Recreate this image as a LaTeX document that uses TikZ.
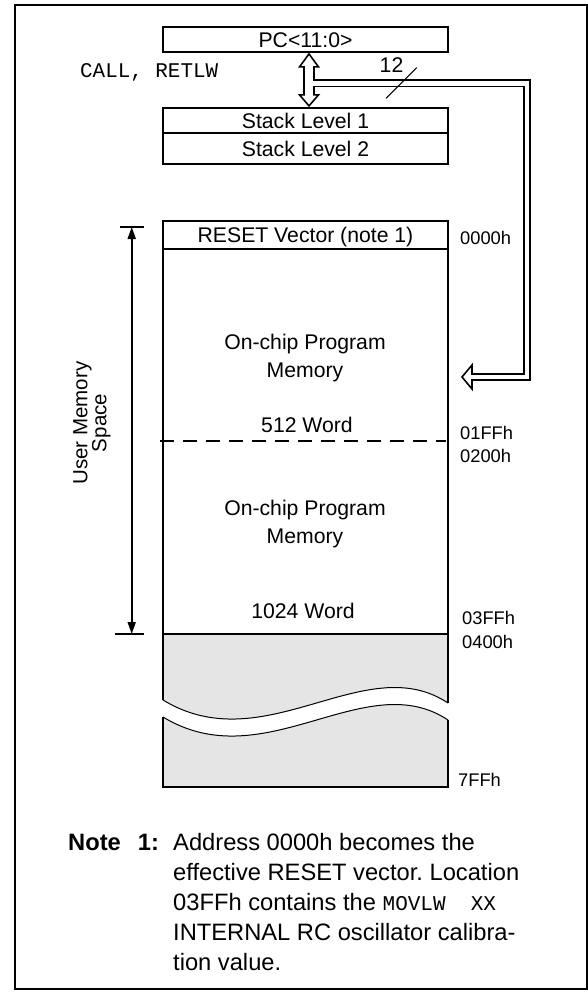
\documentclass[tikz,border=0pt]{standalone}
\usepackage{fontspec}
\setmainfont{Liberation Sans}
\setmonofont{Liberation Mono}
\usetikzlibrary{arrows.meta}
\definecolor{memgray}{gray}{0.9}
\frenchspacing
\begin{document}
\begin{tikzpicture}[x=1pt,y=-1pt,font=\fontsize{21.2}{24}\selectfont,
  box/.style={draw,line width=1.8pt,minimum width=285pt,text height=15.2pt,text depth=0pt,inner sep=0pt},
  lbl/.style={inner sep=0pt,text height=15.2pt,text depth=0pt},
  addr/.style={anchor=west,inner sep=0pt,text height=13.2pt,text depth=0pt,font=\fontsize{18.3}{22}\selectfont},
  bus/.style={double=white,double distance=4.7pt,line width=1.6pt,line join=miter},
  hollow/.style={line width=1.6pt,line join=miter,fill=white}]
\useasboundingbox (0,0) rectangle (588,992);
\draw[line width=2pt] (14.5,5) rectangle (587,989);

\node[box,minimum height=25pt] (PC) at (305.5,39.5) {PC<11:0>};
\node[box,minimum height=25pt] (S1) at (305.5,120.5) {Stack Level 1};
\node[box,minimum height=31pt] (S2) at (305.5,148.5) {Stack Level 2};
\node[anchor=west,inner sep=0pt,text height=12.5pt,text depth=0pt,font=\ttfamily\fontsize{20.9}{24}\selectfont] (CR) at (80,71.5) {CALL, RETLW};
\node[lbl] (N12) at (391.5,65) {12};

\node[box,minimum height=28pt] (RV) at (305.5,235) {RESET Vector (note 1)};
\node[box,minimum height=385pt] (UM) at (305.5,441.5) {};
\node[lbl] (P1) at (305,342) {On-chip Program};
\node[lbl] (P1m) at (305,370) {Memory};
\node[lbl] (W1) at (307,425) {512 Word};
\node[lbl] (P2) at (305,508) {On-chip Program};
\node[lbl] (P2m) at (305,536) {Memory};
\node[lbl] (W2) at (303,611) {1024 Word};

\node[addr] (A0) at (460,238) {0000h};
\node[addr] (A1) at (460,433) {01FFh};
\node[addr] (A2) at (460,456) {0200h};
\node[addr] (A3) at (462,618) {03FFh};
\node[addr] (A4) at (462,642) {0400h};
\node[addr] (A5) at (458,780) {7FFh};

\node[rotate=90,align=center,font=\fontsize{20.5}{19}\selectfont] (US) at (92,423) {User Memory\\Space};

\node[anchor=base west,inner sep=0pt,font=\bfseries\fontsize{23.7}{30}\selectfont] (NT) at (68,850) {Note\hspace{17pt}1:};
\node[anchor=north west,inner sep=0pt,align=left,font=\fontsize{23.7}{30}\selectfont] (NB) at (173,833) {Address 0000h becomes the\\effective RESET vector. Location\\03FFh contains the {\ttfamily\fontsize{21}{30}\selectfont MOVLW~~XX}\\INTERNAL RC oscillator calibra-\\tion value.};

\draw[line width=1.8pt,dash pattern=on 14pt off 9pt] (160,441) -- (446,441);

\fill[memgray] (163,634) -- (448,634) -- (448,703) .. controls (365,648) and (265,762) .. (163,700) -- cycle;
\fill[memgray] (163,717) .. controls (265,779) and (365,665) .. (448,720) -- (448,787) -- (163,787) -- cycle;
\draw[line width=1.8pt] (163,700) -- (163,634) -- (448,634) -- (448,703);
\draw[line width=1.8pt] (163,717) -- (163,787) -- (448,787) -- (448,720);
\draw[line width=1pt] (163,700) .. controls (265,762) and (365,648) .. (448,703);
\draw[line width=1pt] (163,717) .. controls (265,779) and (365,665) .. (448,720);

\coordinate (UT) at (131.7,227);
\coordinate (UB) at (131.7,634);
\draw[line width=1.8pt] (120,227) -- (144,227);
\draw[line width=1.8pt] (115,634) -- (144,634);
\draw[line width=1.8pt,{Triangle[length=12pt,width=8pt]}-{Triangle[length=12pt,width=8pt]}] (UT) -- (UB);

\draw[hollow] ([xshift=3.5pt,yshift=-1pt]PC.south) -- ++(9.5,13) -- ++(-4.5,0) -- ++(0,28) -- ++(4.5,0) -- ++(-9.5,11) -- ++(-9.5,-11) -- ++(4.5,0) -- ++(0,-28) -- ++(-4.5,0) -- cycle;
\coordinate (J) at (313.2,83.3);
\coordinate (T) at (472,377);
\draw[hollow] ([yshift=12pt]T) -- ([xshift=-10pt]T) -- ([yshift=-12pt]T) -- cycle;
\draw[bus] (J) -| ([xshift=55pt]T) -- ([xshift=-1pt]T);
\draw[line width=1pt] (386,98.3) -- (416.7,67.7);

\end{tikzpicture}
\end{document}
